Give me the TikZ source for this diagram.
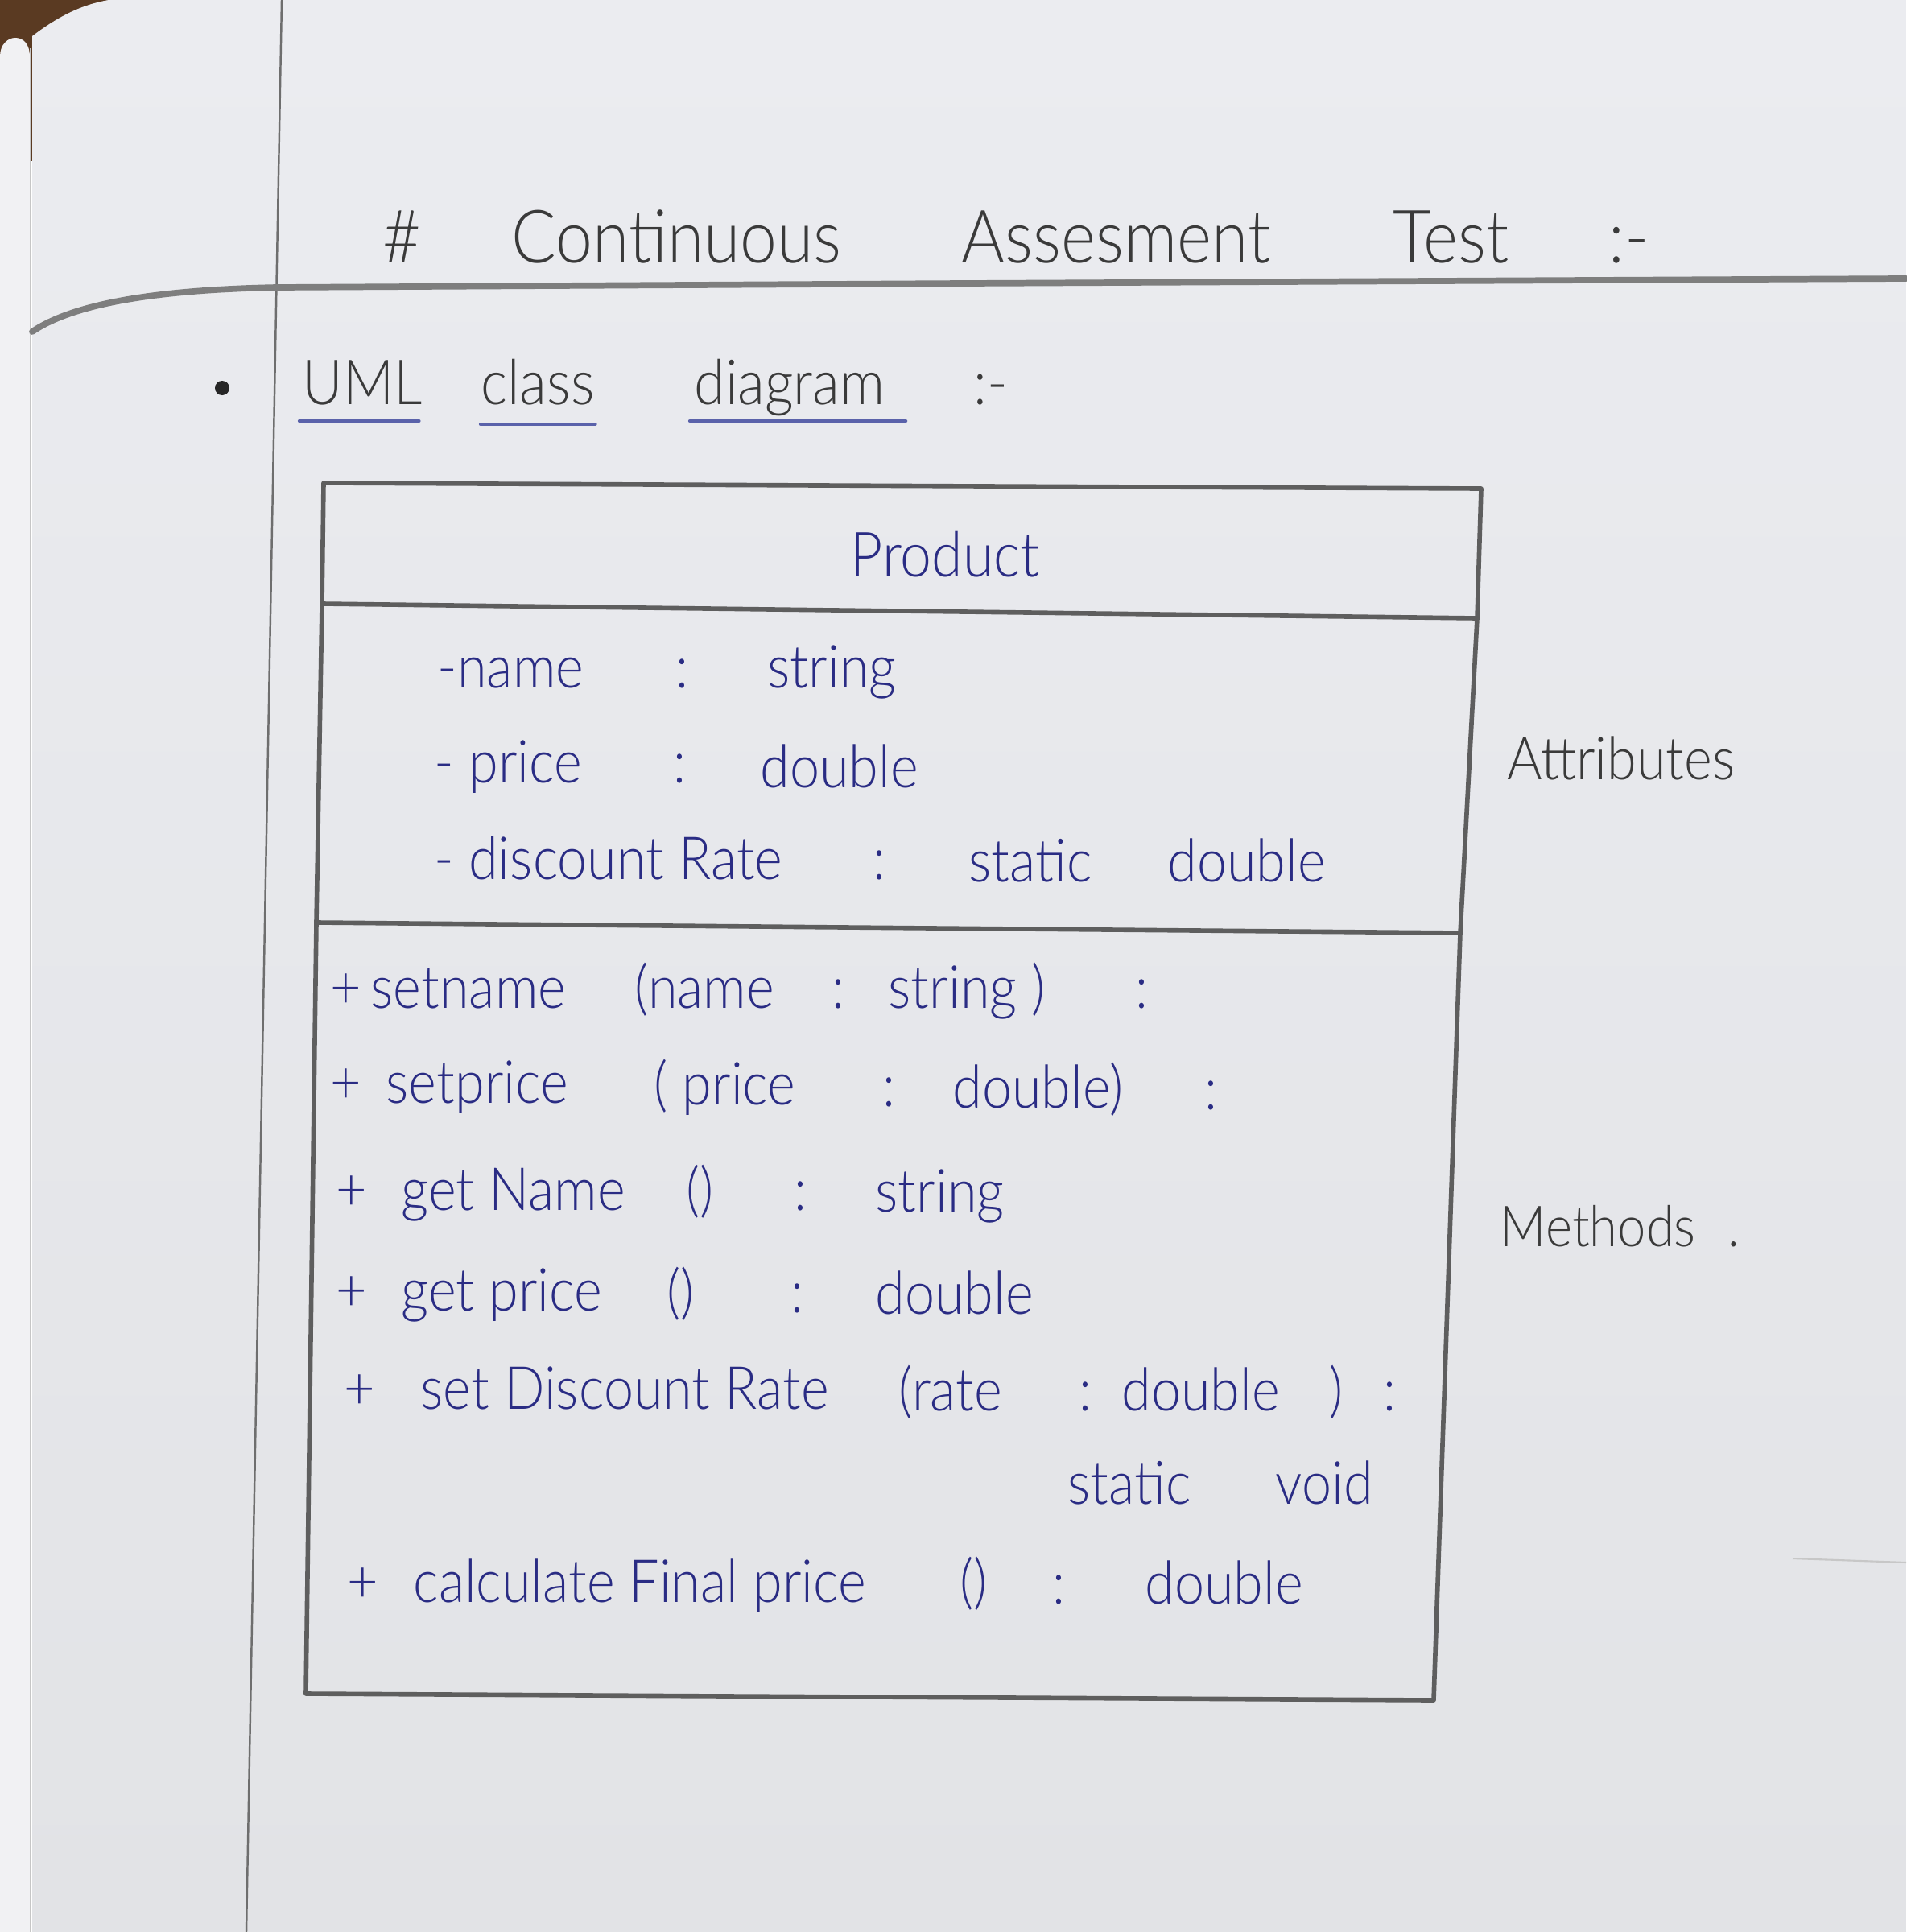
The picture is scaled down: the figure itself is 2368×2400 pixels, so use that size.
\documentclass[tikz,border=0pt]{standalone}
\usepackage{fontspec}
\IfFontExistsTF{Lato Light}{\setmainfont{Lato Light}[FakeStretch=0.9]}{\setmainfont{Carlito}}
\definecolor{wood}{HTML}{5A3A22}
\definecolor{paperTop}{HTML}{EBECF0}
\definecolor{paperBot}{HTML}{E2E3E6}
\definecolor{edgeStrip}{HTML}{F1F1F3}
\definecolor{pencil}{HTML}{5E5E5E}
\definecolor{graphite}{HTML}{3A3A3A}
\definecolor{ink}{HTML}{2A2C84}
\definecolor{inkLight}{HTML}{5A62AA}
\tikzset{
  titletxt/.style={font=\fontsize{26}{30}\selectfont, text=graphite, anchor=base west, inner sep=0pt},
  subtxt/.style={font=\fontsize{22}{26}\selectfont, text=graphite, anchor=base west, inner sep=0pt},
  inktxt/.style={font=\fontsize{21}{25}\selectfont, text=ink, anchor=base west, inner sep=0pt},
  headtxt/.style={font=\fontsize{22}{26}\selectfont, text=ink, anchor=base west, inner sep=0pt},
  notetxt/.style={font=\fontsize{20}{24}\selectfont, text=graphite, anchor=base west, inner sep=0pt},
  uline/.style={draw=inkLight, line width=1.2pt, line cap=round},
  boxline/.style={draw=pencil, line width=1.6pt, line join=round},
  rule/.style={draw=pencil!90, line width=0.7pt},
  heavyrule/.style={draw=pencil!80, line width=2.2pt, line cap=round},
}
\begin{document}
\begin{tikzpicture}[x=0.01cm, y=-0.01cm]
\useasboundingbox (0,0) rectangle (2368,2400);

% desk corner, rolled page edge and the sheet
\fill[wood] (0,0) rectangle (300,200);
\shade[top color=paperTop, bottom color=paperBot]
  (40,45) .. controls (70,22) and (100,6) .. (135,0) -- (2368,0) -- (2368,2400) -- (40,2400) -- cycle;
\fill[edgeStrip] (0,2400) -- (0,70) .. controls (0,55) and (10,47) .. (19,47)
  .. controls (29,47) and (37,55) .. (37,70) -- (37,2400) -- cycle;
\draw[gray!45, line width=0.5pt] (38,60) -- (38,2400);

% margin and heading rules
\draw[rule] (350,0) -- (306,2400);
\draw[heavyrule] (40,412) .. controls (90,378) and (190,360) .. (345,357) -- (1200,352) -- (2368,346);
\draw[pencil!35, line width=0.6pt] (2227,1936) -- (2368,1941);

% heading
\node[titletxt] (t1) at (475,326) {\#};
\node[titletxt] (t2) at (635,326) {Continuous};
\node[titletxt] (t3) at (1194,326) {Assesment};
\node[titletxt] (t4) at (1730,326) {Test};
\node[titletxt] (t5) at (1998,326) {:-};

% sub heading
\fill[black!85] (276,482) circle (9);
\node[subtxt] (u1) at (375,502) {UML};
\node[subtxt] (u2) at (597,502) {class};
\node[subtxt] (u3) at (862,502) {diagram};
\node[subtxt] (u4) at (1209,502) {:-};
\draw[uline] ([xshift=-0.03cm, yshift=-0.21cm]u1.base west) -- ([xshift=-0.05cm, yshift=-0.21cm]u1.base east);
\draw[uline] ([yshift=-0.25cm]u2.base west) -- ([yshift=-0.25cm]u2.base east);
\draw[uline] ([xshift=-0.05cm, yshift=-0.21cm]u3.base west) -- ([xshift=0.25cm, yshift=-0.21cm]u3.base east);

% class box
\coordinate (bTL) at (402,600);
\coordinate (bTR) at (1840,607);
\coordinate (bHR) at (1835,768);
\coordinate (bAR) at (1814,1159);
\coordinate (bBR) at (1781,2112);
\coordinate (bBL) at (380,2104);
\coordinate (bAL) at (393,1146);
\coordinate (bHL) at (400,750);
\draw[boxline] (bTL) -- (bTR) -- (bHR) -- (bAR) -- (bBR) -- (bBL) -- (bAL) -- (bHL) -- cycle;
\draw[boxline] (bHL) -- (bHR);
\draw[boxline] (bAL) -- (bAR);

\node[headtxt] (cls) at (1056,716) {Product};

% attributes
\node[inktxt] (a1a) at (543,854) {-name};
\node[inktxt] (a1b) at (839,854) {:};
\node[inktxt] (a1c) at (953,854) {string};
\node[inktxt] (a2a) at (539,972) {- price};
\node[inktxt] (a2b) at (836,972) {:};
\node[inktxt] (a2c) at (944,978) {double};
\node[inktxt] (a3a) at (539,1092) {- discount Rate};
\node[inktxt] (a3b) at (1084,1092) {:};
\node[inktxt] (a3c) at (1203,1095) {static};
\node[inktxt] (a3d) at (1450,1095) {double};

% methods
\node[inktxt] (m1a) at (410,1252) {+};
\node[inktxt] (m1b) at (460,1252) {setname};
\node[inktxt] (m1c) at (788,1252) {(name};
\node[inktxt] (m1d) at (1033,1252) {:};
\node[inktxt] (m1e) at (1103,1252) {string )};
\node[inktxt] (m1f) at (1410,1252) {:};

\node[inktxt] (m2a) at (410,1370) {+};
\node[inktxt] (m2b) at (479,1370) {setprice};
\node[inktxt] (m2c) at (812,1372) {( price};
\node[inktxt] (m2d) at (1096,1374) {:};
\node[inktxt] (m2e) at (1183,1376) {double)};
\node[inktxt] (m2f) at (1496,1378) {:};

\node[inktxt] (m3a) at (417,1503) {+};
\node[inktxt] (m3b) at (498,1503) {get Name};
\node[inktxt] (m3c) at (852,1503) {()};
\node[inktxt] (m3d) at (986,1503) {:};
\node[inktxt] (m3e) at (1087,1505) {string};

\node[inktxt] (m4a) at (417,1628) {+};
\node[inktxt] (m4b) at (498,1628) {get price};
\node[inktxt] (m4c) at (828,1630) {()};
\node[inktxt] (m4d) at (982,1630) {:};
\node[inktxt] (m4e) at (1087,1632) {double};

\node[inktxt] (m5a) at (427,1750) {+};
\node[inktxt] (m5b) at (522,1750) {set Discount Rate};
\node[inktxt] (m5c) at (1116,1752) {(rate};
\node[inktxt] (m5d) at (1340,1752) {:};
\node[inktxt] (m5e) at (1393,1752) {double};
\node[inktxt] (m5f) at (1651,1752) {)};
\node[inktxt] (m5g) at (1718,1752) {:};
\node[inktxt] (m6a) at (1326,1868) {static};
\node[inktxt] (m6b) at (1584,1868) {void};

\node[inktxt] (m7a) at (431,1990) {+};
\node[inktxt] (m7b) at (513,1990) {calculate Final price};
\node[inktxt] (m7c) at (1192,1990) {()};
\node[inktxt] (m7d) at (1307,1992) {:};
\node[inktxt] (m7e) at (1422,1992) {double};

% side notes
\node[notetxt, font=\fontsize{21}{25}\selectfont] (nAttr) at (1872,968) {Attributes};
\node[notetxt] (nMeth) at (1863,1548) {Methods};
\node[notetxt] (nDot) at (2146,1548) {.};
\end{tikzpicture}
\end{document}
